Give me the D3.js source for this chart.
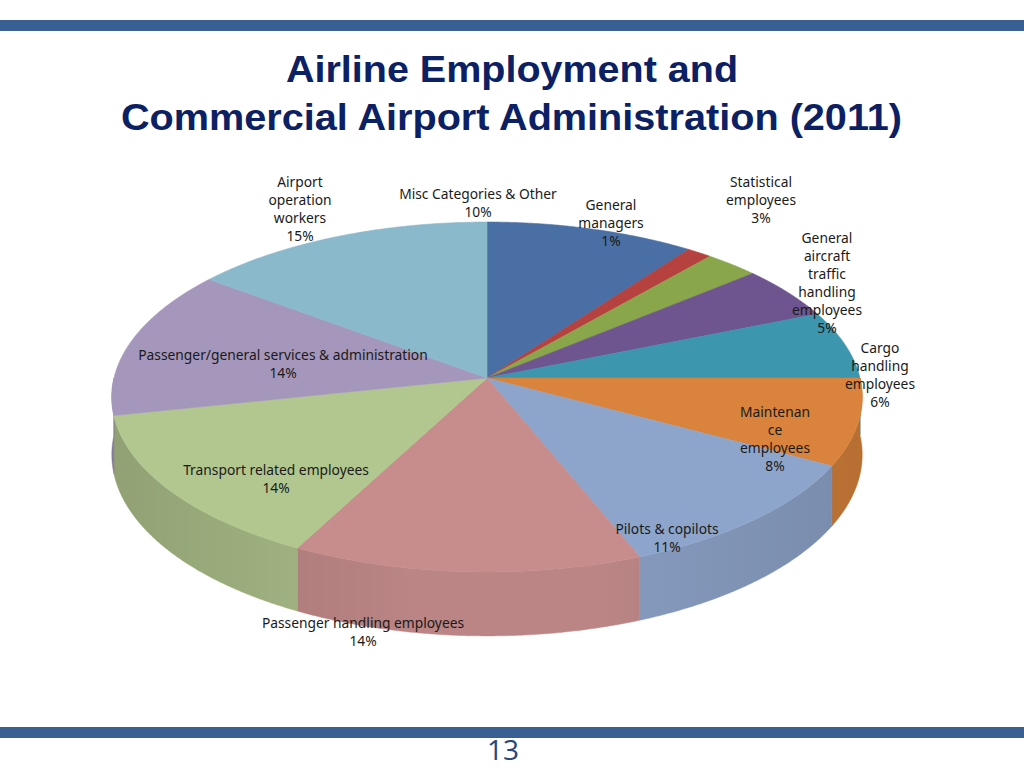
<!DOCTYPE html>
<html>
<head>
<meta charset="utf-8">
<script src="https://cdn.jsdelivr.net/npm/d3@7"></script>
<style>
  html, body { margin: 0; padding: 0; background: #fff; }
  svg { display: block; }
</style>
</head>
<body>
<script>
// slice order: clockwise from 12 o'clock
const categories = [
  "Misc Categories & Other",
  "General managers",
  "Statistical employees",
  "General aircraft traffic handling employees",
  "Cargo handling employees",
  "Maintenance employees",
  "Pilots & copilots",
  "Passenger handling employees",
  "Transport related employees",
  "Passenger/general services & administration",
  "Airport operation workers"
];
const shares = [10.0, 1.2, 2.6, 4.9, 6.3, 8.0, 11.0, 13.6, 14.0, 13.8, 14.6];
const percentLabels = ["10%", "1%", "3%", "5%", "6%", "8%", "11%", "14%", "14%", "14%", "15%"];
// how the labels wrap in the picture
const labelLines = [
  ["Misc Categories & Other"],
  ["General", "managers"],
  ["Statistical", "employees"],
  ["General", "aircraft", "traffic", "handling", "employees"],
  ["Cargo", "handling", "employees"],
  ["Maintenan", "ce", "employees"],
  ["Pilots & copilots"],
  ["Passenger handling employees"],
  ["Transport related employees"],
  ["Passenger/general services & administration"],
  ["Airport", "operation", "workers"]
];
const colors = ["#4a6fa5", "#b5423f", "#8aa64a", "#6e5590", "#3c96ae", "#d9833c",
                "#8ea5cb", "#c68d8c", "#b2c78f", "#a497bb", "#8ab9cc"];

// label anchors (centre x, first baseline y)
const labelPos = [
  [478, 199], [611, 210], [761, 187], [827, 243], [880, 353], [775, 417],
  [667, 534], [363, 628], [276, 475], [283, 360], [300, 187]
];

const W = 1024, H = 768;
const svg = d3.select("body").append("svg").attr("width", W).attr("height", H);

// slide furniture
svg.append("rect").attr("x", 0).attr("y", 20).attr("width", W).attr("height", 11).attr("fill", "#3a6093");
svg.append("rect").attr("x", 0).attr("y", 727).attr("width", W).attr("height", 11).attr("fill", "#3a6093");
svg.append("text").attr("x", 503).attr("y", 760).attr("text-anchor", "middle")
  .style("font-family", "'Open Sans', sans-serif").style("font-size", "28px")
  .attr("fill", "#264878").text("13");

const title = svg.append("g")
  .style("font-family", "'Liberation Sans', Arial, sans-serif")
  .style("font-weight", "bold").style("font-size", "37px").attr("fill", "#0c2064");
title.append("text").attr("x", 286).attr("y", 82).attr("textLength", 452)
  .attr("lengthAdjust", "spacingAndGlyphs").text("Airline Employment and");
title.append("text").attr("x", 121).attr("y", 130).attr("textLength", 781)
  .attr("lengthAdjust", "spacingAndGlyphs").text("Commercial Airport Administration (2011)");

// 3D pie with simple perspective
const cx = 487, cy = 378, R = 373, A = 172.9, k = 0.1086, depth = 57;
function project(a, h) {
  const px = Math.sin(a), pz = Math.cos(a);
  const s = 1 / (1 + k * pz);
  return [cx + R * px * s, cy - A * pz * s + depth * h * s];
}
function sample(a0, a1) {
  const n = Math.max(2, Math.ceil((a1 - a0) / 0.005));
  return d3.range(n + 1).map(i => a0 + (a1 - a0) * i / n);
}
const line = d3.line();

const pie = d3.pie().sort(null).value(d => d).startAngle(0).endAngle(2 * Math.PI);
const arcs = pie(shares);

const defs = svg.append("defs");
const shade = defs.append("linearGradient").attr("id", "wallShade")
  .attr("gradientUnits", "userSpaceOnUse").attr("x1", cx - R).attr("x2", cx + R).attr("y1", 0).attr("y2", 0);
shade.append("stop").attr("offset", 0).attr("stop-color", "#000").attr("stop-opacity", 0.14);
shade.append("stop").attr("offset", 0.4).attr("stop-color", "#000").attr("stop-opacity", 0.0);
shade.append("stop").attr("offset", 0.65).attr("stop-color", "#000").attr("stop-opacity", 0.0);
shade.append("stop").attr("offset", 1).attr("stop-color", "#000").attr("stop-opacity", 0.1);

// outer walls on the front half
const walls = arcs.map((d, i) => {
  const a0 = Math.max(d.startAngle, Math.PI / 2), a1 = Math.min(d.endAngle, 3 * Math.PI / 2);
  if (a1 <= a0) return null;
  const ang = sample(a0, a1);
  const pts = ang.map(a => project(a, 0)).concat(ang.slice().reverse().map(a => project(a, 1)));
  return { i, path: line(pts) + "Z" };
}).filter(Boolean);

const wallG = svg.append("g");
wallG.selectAll("path.wall").data(walls).join("path").attr("class", "wall")
  .attr("d", d => d.path).attr("fill", d => d3.color(colors[d.i]).darker(0.17))
  .attr("stroke", d => d3.color(colors[d.i]).darker(0.17)).attr("stroke-width", 0.5);
wallG.selectAll("path.shade").data(walls).join("path").attr("class", "shade")
  .attr("d", d => d.path).attr("fill", "url(#wallShade)");

// top faces
svg.append("g").selectAll("path").data(arcs).join("path")
  .attr("d", d => line([[cx, cy]].concat(sample(d.startAngle, d.endAngle).map(a => project(a, 0)))) + "Z")
  .attr("fill", (d, i) => colors[i])
  .attr("stroke", (d, i) => colors[i]).attr("stroke-width", 0.6);

// data labels
const lab = svg.append("g").style("font-family", "'Noto Sans', 'Open Sans', sans-serif")
  .style("font-size", "13.8px").attr("fill", "#1a1a1a").attr("text-anchor", "middle");
categories.forEach((c, i) => {
  const lines = labelLines[i].concat([percentLabels[i]]);
  const t = lab.append("text").attr("x", labelPos[i][0]).attr("y", labelPos[i][1]);
  lines.forEach((l, j) => t.append("tspan").attr("x", labelPos[i][0]).attr("dy", j ? 18 : 0).text(l));
});
</script>
</body>
</html>
